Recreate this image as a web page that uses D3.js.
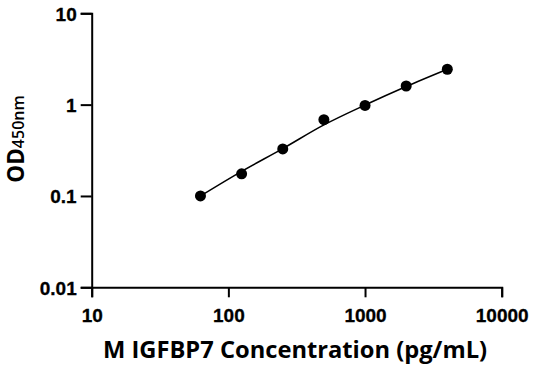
<!DOCTYPE html>
<html><head><meta charset="utf-8">
<script src="https://cdn.jsdelivr.net/npm/d3@7/dist/d3.min.js"></script>
<style>body{margin:0;background:#fff}</style>
</head><body>
<svg id="c" width="536" height="371"></svg>
<script>
const concentration = [62.5, 125, 250, 500, 1000, 2000, 4000];
const od = [0.100, 0.175, 0.327, 0.685, 0.98, 1.60, 2.44];
const fitX = [62.5, 125, 250, 500, 1000, 2000, 4000];
const fitY = [0.100, 0.186, 0.330, 0.600, 0.99, 1.58, 2.44];
const xTicks = [10, 100, 1000, 10000];
const yTicks = [0.01, 0.1, 1, 10];
const xLabels = ["10", "100", "1000", "10000"];
const yLabels = ["0.01", "0.1", "1", "10"];

const svg = d3.select("#c");
const x = d3.scaleLog().domain([10, 10000]).range([91.7, 501.7]);
const y = d3.scaleLog().domain([0.01, 10]).range([287.3, 13.3]);

const xAxis = d3.axisBottom(x).tickValues(xTicks).tickFormat((d,i)=>xLabels[i]).tickSize(10).tickPadding(11);
const yAxis = d3.axisLeft(y).tickValues(yTicks).tickFormat((d,i)=>yLabels[i]).tickSize(11).tickPadding(4);

const gx = svg.append("g").attr("transform", "translate(0,287.3)").call(xAxis);
const gy = svg.append("g").attr("transform", "translate(91.7,0)").call(yAxis);
[gx, gy].forEach(g => {
  g.attr("font-family", "'Liberation Sans', Arial, sans-serif").attr("font-size", 19).attr("font-weight", "bold");
  g.select(".domain").attr("stroke", "#000").attr("stroke-width", 2);
  g.selectAll(".tick line").attr("stroke", "#000").attr("stroke-width", 2);
  g.selectAll(".tick text").attr("fill", "#000").attr("stroke", "#000").attr("stroke-width", 0.3);
});
gy.selectAll(".tick text").attr("dy", "0.36em");

const line = d3.line().x(d => x(d[0])).y(d => y(d[1])).curve(d3.curveMonotoneX);
svg.append("path").datum(fitX.map((v,i)=>[v, fitY[i]]))
  .attr("d", line).attr("fill", "none").attr("stroke", "#000").attr("stroke-width", 1.5);

svg.selectAll("circle.pt").data(concentration.map((v,i)=>[v, od[i]])).enter()
  .append("circle").attr("class","pt")
  .attr("cx", d => x(d[0])).attr("cy", d => y(d[1])).attr("r", 5.5).attr("fill", "#000");

svg.append("text").attr("x", 295).attr("y", 358).attr("text-anchor", "middle")
  .attr("font-family", "'Open Sans', sans-serif").attr("font-weight", "bold").attr("font-size", 23.7)
  .attr("fill", "#000").text("M IGFBP7 Concentration (pg/mL)");

const yt = svg.append("text").attr("transform", "translate(23.5,139) rotate(-90)").attr("text-anchor", "middle")
  .attr("font-family", "'Open Sans', sans-serif").attr("fill", "#000");
yt.append("tspan").attr("font-weight", "bold").attr("font-size", 22.5).text("OD");
yt.append("tspan").attr("font-weight", "600").attr("font-size", 16).text("450nm");
</script>
</body></html>
